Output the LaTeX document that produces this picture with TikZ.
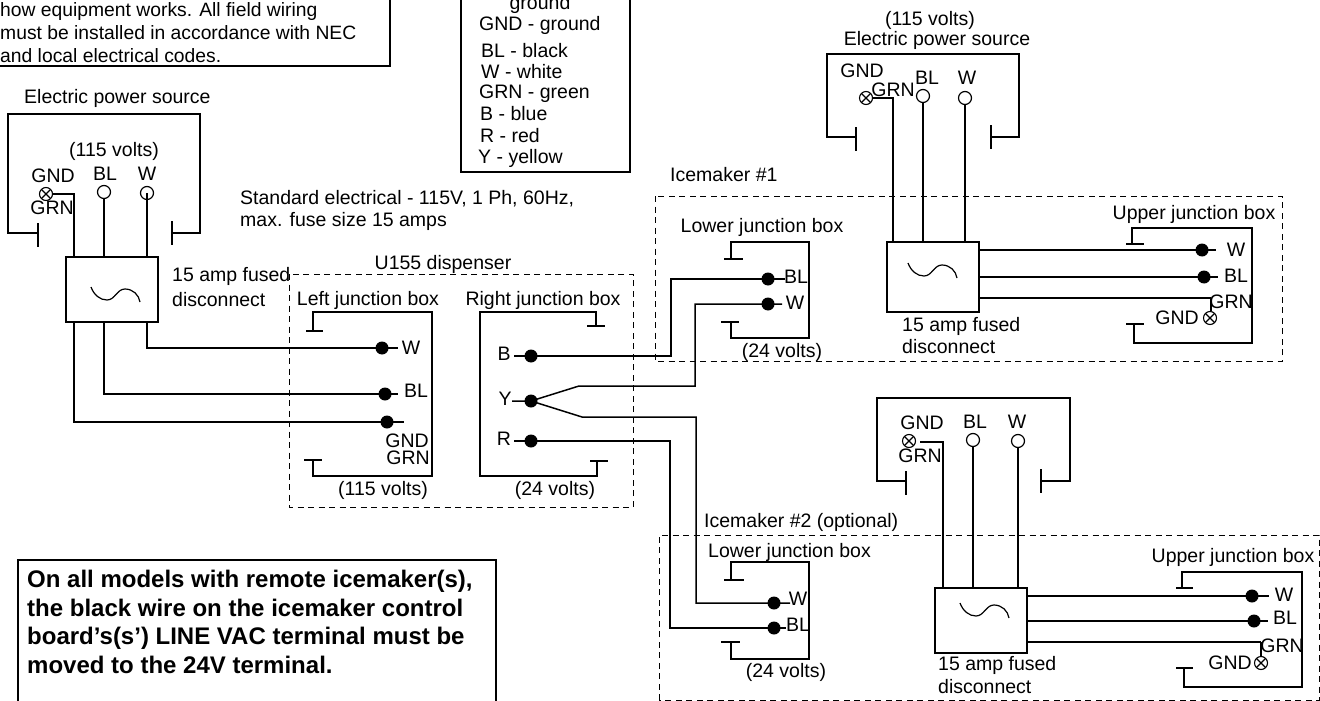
\documentclass[tikz,border=0pt]{standalone}
\usepackage{fontspec}
\setmainfont{Liberation Sans}
\tikzset{
    lbl/.style={inner sep=0pt, text height=13.6pt, text depth=0pt, font=\fontsize{19.5}{23}\selectfont},
    wire/.style={line width=1.5pt},
    frame/.style={line width=1.2pt},
    zone/.style={line width=1pt, dash pattern=on 6pt off 4.5pt},
    fusebox/.style={draw, line width=1.4pt, minimum width=92pt, minimum height=#1, inner sep=0pt},
    wiredot/.style={circle, fill=black, minimum size=13pt, inner sep=0pt},
    termopen/.style={circle, draw, line width=1.2pt, minimum size=13pt, inner sep=0pt},
    termgnd/.style={circle, draw, line width=1.1pt, minimum size=13pt, inner sep=0pt,
        path picture={\draw (path picture bounding box.north west) -- (path picture bounding box.south east)
            (path picture bounding box.north east) -- (path picture bounding box.south west);}},
}
\newcommand{\acsine}[1]{\draw[frame, shift={#1}] (0,0) .. controls (3,8) and (9,13) .. (16,13) .. controls (24,13) and (26,2) .. (34,2) .. controls (42,2) and (48,8) .. (49,15);}
\begin{document}
\begin{tikzpicture}[x=1pt, y=-1pt]
    \useasboundingbox (0,0) rectangle (1320,701);
    % notes
    \draw[frame] (390,0) -- (390,66) -- (0,66);
    \node[inner sep=0pt, anchor=south west, align=left, font=\fontsize{19.3}{23}\selectfont] (notefield) at (0,63)
        {how equipment works. All field wiring\\must be installed in accordance with NEC\\and local electrical codes.};
    \draw[line width=1.8pt] (18,701) -- (18,560) -- (496,560) -- (496,701);
    \node[inner sep=0pt, anchor=north west, align=left, font=\fontsize{24}{28.7}\selectfont\bfseries] (noteboard) at (27,570)
        {On all models with remote icemaker(s),\\the black wire on the icemaker control\\board’s(s’) LINE VAC terminal must be\\moved to the 24V terminal.};
    \draw[frame] (461,0) -- (461,172) -- (630,172) -- (630,0);
    \node[lbl] (keyground) at (540,3) {ground};
    \node[lbl, anchor=west] (keygnd) at (479,24) {GND - ground};
    \node[lbl, anchor=west] (keybl) at (481,51) {BL - black};
    \node[lbl, anchor=west] (keyw) at (481,72) {W - white};
    \node[lbl, anchor=west] (keygrn) at (479,92) {GRN - green};
    \node[lbl, anchor=west] (keyb) at (480,114) {B - blue};
    \node[lbl, anchor=west] (keyr) at (480,136) {R - red};
    \node[lbl, anchor=west] (keyy) at (478,157) {Y - yellow};
    \node[lbl, anchor=west] (stdline) at (240,198) {Standard electrical - 115V, 1 Ph, 60Hz,};
    \node[lbl, anchor=west] (stdfuse) at (240,220) {max. fuse size 15 amps};

    % left source
    \node[lbl, anchor=west] (srcL) at (24,97) {Electric power source};
    \draw[frame] (38,223) -- (38,247) (38,233) -- (8,233) -- (8,114) -- (200,114) -- (200,233) -- (172,233) (172,221) -- (172,245);
    \node[lbl] (voltL) at (114,150) {(115 volts)};
    \node[lbl] (gndL) at (53,176) {GND};
    \node[lbl] (blL) at (105,174) {BL};
    \node[lbl] (wL) at (147,174) {W};
    \node[lbl] (grnL) at (52,208) {GRN};
    \node[termgnd] (termLg) at (46,194) {};
    \node[termopen] (termLb) at (104,192) {};
    \node[termopen] (termLw) at (147,193) {};
    \node[fusebox=65pt] (fuseL) at (112,289.5) {};
    \acsine{(91,287)}
    \node[lbl, anchor=west] (ampL) at (172,275) {15 amp fused};
    \node[lbl, anchor=west] (discL) at (172,300) {disconnect};
    \coordinate (bendLg) at (74,194);
    \draw[wire] (termLg) -- (bendLg) -- (bendLg |- fuseL.north);
    \draw[wire] (termLb) -- (termLb |- fuseL.north);
    \draw[wire] (termLw.center) -- (termLw |- fuseL.north);

    % dispenser
    \draw[zone] (289,274) rectangle (633,507);
    \node[lbl] (zoneU) at (443,263) {U155 dispenser};
    \node[lbl] (jbLeft) at (368,299) {Left junction box};
    \node[lbl] (jbRight) at (543,299) {Right junction box};
    \draw[frame] (306,331) -- (323,331) (313,331) -- (313,312) -- (432,312) -- (432,476) -- (313,476) -- (313,460) (304,460) -- (322,460);
    \draw[frame] (587,326) -- (605,326) (596,326) -- (596,312) -- (480,312) -- (480,476) -- (597,476) -- (597,461) (590,461) -- (608,461);
    \node[lbl] (voltLeft) at (383,489) {(115 volts)};
    \node[lbl] (voltRight) at (555,489) {(24 volts)};
    \node[wiredot] (dotLw) at (382,348) {};
    \node[wiredot] (dotLb) at (385,394) {};
    \node[wiredot] (dotLg) at (387,422) {};
    \coordinate (stubLw) at (398,348);
    \coordinate (stubLb) at (398,394);
    \coordinate (stubLg) at (404,422);
    \node[lbl] (wLeft) at (411,348) {W};
    \node[lbl] (blLeft) at (416,391) {BL};
    \node[lbl] (gndLeft) at (407,441) {GND};
    \node[lbl] (grnLeft) at (408,458) {GRN};
    \draw[wire] (termLw |- fuseL.south) |- (stubLw);
    \draw[wire] (termLb |- fuseL.south) |- (stubLb);
    \draw[wire] (bendLg |- fuseL.south) |- (stubLg);
    \node[lbl] (bRight) at (504,354) {B};
    \node[lbl] (yRight) at (505,399) {Y};
    \node[lbl] (rRight) at (504,439) {R};
    \node[wiredot] (dotB) at (531,356) {};
    \node[wiredot] (dotY) at (531,401) {};
    \node[wiredot] (dotR) at (531,441) {};
    \coordinate (stubB) at (514,356);
    \coordinate (stubY) at (512,401);
    \coordinate (stubR) at (514,441);

    % icemaker 1
    \draw[zone] (655,196) rectangle (1282,361);
    \node[lbl, anchor=west] (zoneA) at (670,175) {Icemaker \#1};
    \node[lbl] (jbLowA) at (762,226) {Lower junction box};
    \draw[frame] (724,259) -- (743,259) (731,259) -- (731,242) -- (809,242) -- (809,338) -- (731,338) -- (731,322) (721,322) -- (739,322);
    \node[lbl] (voltLowA) at (782,351) {(24 volts)};
    \node[wiredot] (dotAb) at (768,279) {};
    \node[wiredot] (dotAw) at (768,304) {};
    \coordinate (stubAb) at (785,279);
    \coordinate (stubAw) at (782,304);
    \node[lbl] (blA) at (796,277) {BL};
    \node[lbl] (wA) at (795,303) {W};
    \coordinate (bendBa) at (671,356);
    \coordinate (kneeYa) at (579,386);
    \coordinate (bendYa) at (695,386);
    \draw[wire] (stubB) -- (bendBa) |- (stubAb);
    \draw[wire] (stubY) -- (dotY.center) -- (kneeYa) -- (bendYa) |- (stubAw);

    % top source
    \node[lbl] (voltT) at (930,19) {(115 volts)};
    \node[lbl] (srcT) at (937,39) {Electric power source};
    \draw[frame] (856,127) -- (856,151) (856,137) -- (827,137) -- (827,54) -- (1019,54) -- (1019,137) -- (991,137) (991,125) -- (991,149);
    \node[lbl] (gndT) at (862,71) {GND};
    \node[lbl] (grnT) at (893,90) {GRN};
    \node[lbl] (blT) at (927,78) {BL};
    \node[lbl] (wT) at (967,78) {W};
    \node[termgnd] (termTg) at (866,98) {};
    \node[termopen] (termTb) at (923,96) {};
    \node[termopen] (termTw) at (965,98) {};
    \node[fusebox=70pt] (fuseT) at (933,277) {};
    \acsine{(908,263)}
    \node[lbl, anchor=west] (ampT) at (902,325) {15 amp fused};
    \node[lbl, anchor=west] (discT) at (902,347) {disconnect};
    \coordinate (bendTg) at (893,98);
    \draw[wire] (termTg) -- (bendTg) -- (bendTg |- fuseT.north);
    \draw[wire] (termTb) -- (termTb |- fuseT.north);
    \draw[wire] (termTw) -- (termTw |- fuseT.north);
    \node[lbl] (jbUpA) at (1194,213) {Upper junction box};
    \draw[frame] (1126,244) -- (1144,244) (1132,244) -- (1132,228) -- (1252,228) -- (1252,343) -- (1134,343) -- (1134,324) (1126,324) -- (1144,324);
    \node[wiredot] (dotUw) at (1202,250) {};
    \node[wiredot] (dotUb) at (1204,277) {};
    \coordinate (stubUw) at (1216,250);
    \coordinate (stubUb) at (1218,277);
    \coordinate (stubUg) at (1211,298);
    \node[lbl] (wU) at (1236,250) {W};
    \node[lbl] (blU) at (1236,276) {BL};
    \node[lbl] (grnU) at (1231,302) {GRN};
    \node[lbl] (gndU) at (1177,318) {GND};
    \node[termgnd] (termUg) at (1210,318) {};
    \draw[wire] (fuseT.east |- stubUw) -- (stubUw);
    \draw[wire] (fuseT.east |- stubUb) -- (stubUb);
    \draw[wire] (fuseT.east |- stubUg) -- (stubUg);
    \draw[frame] (stubUg) -- (stubUg |- termUg.north);

    % icemaker 2
    \draw[zone] (659,700) -- (659,535) -- (1319,535) -- (1319,700) -- cycle;
    \node[lbl, anchor=west] (zoneB) at (704,521) {Icemaker \#2 (optional)};
    \node[lbl] (jbLowB) at (789.5,551) {Lower junction box};
    \draw[frame] (724,580) -- (744,580) (731,580) -- (731,562) -- (809,562) -- (809,659) -- (731,659) -- (731,642) (721,642) -- (740,642);
    \node[lbl] (voltLowB) at (786,671) {(24 volts)};
    \node[wiredot] (dotBw) at (774,603) {};
    \node[wiredot] (dotBb) at (774,628) {};
    \coordinate (stubBw) at (790,603);
    \coordinate (stubBb) at (786,628);
    \node[lbl] (wB) at (798,599) {W};
    \node[lbl] (blB) at (798,625) {BL};
    \coordinate (kneeYb) at (582,417);
    \coordinate (bendYb) at (696,417);
    \coordinate (bendRb) at (670,441);
    \draw[wire] (dotY.center) -- (kneeYb) -- (bendYb) |- (stubBw);
    \draw[wire] (stubR) -- (bendRb) |- (stubBb);

    % lower source
    \draw[frame] (906,471) -- (906,495) (906,481) -- (877,481) -- (877,398) -- (1070,398) -- (1070,481) -- (1041,481) (1041,469) -- (1041,493);
    \node[lbl] (gndD) at (922,423) {GND};
    \node[lbl] (blD) at (975,422) {BL};
    \node[lbl] (wD) at (1017,422) {W};
    \node[lbl] (grnD) at (920,456) {GRN};
    \node[termgnd] (termDg) at (909,441) {};
    \node[termopen] (termDb) at (973,440) {};
    \node[termopen] (termDw) at (1018,441) {};
    \node[fusebox=65pt] (fuseD) at (981,620.5) {};
    \acsine{(960,603)}
    \node[lbl, anchor=west] (ampD) at (938,664) {15 amp fused};
    \node[lbl, anchor=west] (discD) at (938,687) {disconnect};
    \coordinate (startDg) at (920,442);
    \coordinate (bendDg) at (943,442);
    \draw[wire] (startDg) -- (bendDg) -- (bendDg |- fuseD.north);
    \draw[wire] (termDb) -- (termDb |- fuseD.north);
    \draw[wire] (termDw) -- (termDw |- fuseD.north);
    \node[lbl] (jbUpB) at (1233,556) {Upper junction box};
    \draw[frame] (1176,588) -- (1193,588) (1182,588) -- (1182,572) -- (1302,572) -- (1302,687) -- (1184,687) -- (1184,668) (1176,668) -- (1193,668);
    \node[wiredot] (dotVw) at (1252,596) {};
    \node[wiredot] (dotVb) at (1254,621) {};
    \coordinate (stubVw) at (1269,596);
    \coordinate (stubVb) at (1268,621);
    \coordinate (stubVg) at (1261,642);
    \node[lbl] (wV) at (1284,595) {W};
    \node[lbl] (blV) at (1285,618) {BL};
    \node[lbl] (grnV) at (1282,646) {GRN};
    \node[lbl] (gndV) at (1230,663) {GND};
    \node[termgnd] (termVg) at (1261,663) {};
    \draw[wire] (fuseD.east |- stubVw) -- (stubVw);
    \draw[wire] (fuseD.east |- stubVb) -- (stubVb);
    \draw[wire] (fuseD.east |- stubVg) -- (stubVg);
    \draw[frame] (stubVg) -- (stubVg |- termVg.north);
\end{tikzpicture}
\end{document}
